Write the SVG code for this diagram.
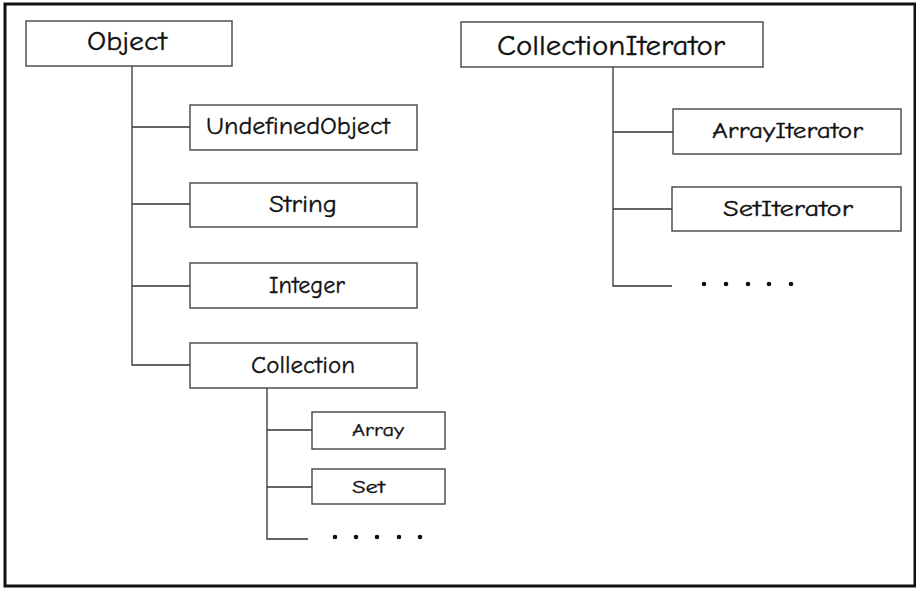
<svg xmlns="http://www.w3.org/2000/svg" width="916" height="589" viewBox="0 0 916 589">
  <style>
    .box { fill: #fff; stroke: #444; stroke-width: 1.4; }
    .lbl { font-family: "Comic Neue", "DejaVu Sans", "Liberation Sans", sans-serif; fill: #111; stroke: #111; stroke-width: 0.35; }
    .edge { fill: none; stroke: #333; stroke-width: 1.3; }
    .dot { fill: #111; }
  </style>
  <rect width="916" height="589" fill="#fff"/>
  <!-- outer frame -->
  <path d="M5 4 H915 V586 H5 Z" fill="none" stroke="#111" stroke-width="3"/>

  <!-- connectors -->
  <g id="connectors" class="edge">
    <path d="M132 66 V365 H190"/>
    <path d="M132 127 H190"/>
    <path d="M132 204 H190"/>
    <path d="M132 286 H190"/>
    <path d="M267 388 V539 H308"/>
    <path d="M267 430 H312"/>
    <path d="M267 487 H312"/>
    <path d="M613 67 V286 H672"/>
    <path d="M613 132 H673"/>
    <path d="M613 209 H673"/>
  </g>

  <g id="object">
    <rect class="box" x="26" y="21" width="206" height="45"/>
    <text class="lbl" x="87" y="50" font-size="27" textLength="80" lengthAdjust="spacingAndGlyphs">Object</text>
  </g>
  <g id="undefined-object">
    <rect class="box" x="190" y="105" width="227" height="45"/>
    <text class="lbl" x="206" y="134" font-size="25" textLength="184" lengthAdjust="spacingAndGlyphs">UndefinedObject</text>
  </g>
  <g id="string">
    <rect class="box" x="190" y="183" width="227" height="44"/>
    <text class="lbl" x="269" y="212" font-size="24" textLength="68" lengthAdjust="spacingAndGlyphs">String</text>
  </g>
  <g id="integer">
    <rect class="box" x="190" y="263" width="227" height="45"/>
    <text class="lbl" x="269" y="293" font-size="24" textLength="76" lengthAdjust="spacingAndGlyphs">Integer</text>
  </g>
  <g id="collection">
    <rect class="box" x="190" y="343" width="227" height="45"/>
    <text class="lbl" x="251" y="373" font-size="24" textLength="104" lengthAdjust="spacingAndGlyphs">Collection</text>
  </g>
  <g id="array">
    <rect class="box" x="312" y="412" width="133" height="37"/>
    <text class="lbl" x="352" y="436" font-size="19" textLength="52" lengthAdjust="spacingAndGlyphs">Array</text>
  </g>
  <g id="set">
    <rect class="box" x="312" y="469" width="133" height="35"/>
    <text class="lbl" x="352" y="493" font-size="19" textLength="33" lengthAdjust="spacingAndGlyphs">Set</text>
  </g>
  <g id="collection-more">
    <circle class="dot" cx="335" cy="537" r="2.3"/>
    <circle class="dot" cx="356" cy="537" r="2.3"/>
    <circle class="dot" cx="377" cy="537" r="2.3"/>
    <circle class="dot" cx="399" cy="537" r="2.3"/>
    <circle class="dot" cx="420" cy="537" r="2.3"/>
  </g>

  <g id="collection-iterator">
    <rect class="box" x="461" y="22" width="302" height="45"/>
    <text class="lbl" x="497" y="55" font-size="28" textLength="228" lengthAdjust="spacingAndGlyphs">CollectionIterator</text>
  </g>
  <g id="array-iterator">
    <rect class="box" x="673" y="109" width="228" height="45"/>
    <text class="lbl" x="712" y="138" font-size="23" textLength="151" lengthAdjust="spacingAndGlyphs">ArrayIterator</text>
  </g>
  <g id="set-iterator">
    <rect class="box" x="672" y="187" width="229" height="44"/>
    <text class="lbl" x="723" y="216" font-size="23" textLength="130" lengthAdjust="spacingAndGlyphs">SetIterator</text>
  </g>
  <g id="iterator-more">
    <circle class="dot" cx="704" cy="284" r="2.3"/>
    <circle class="dot" cx="726" cy="284" r="2.3"/>
    <circle class="dot" cx="748" cy="284" r="2.3"/>
    <circle class="dot" cx="769" cy="284" r="2.3"/>
    <circle class="dot" cx="791" cy="284" r="2.3"/>
  </g>
</svg>
